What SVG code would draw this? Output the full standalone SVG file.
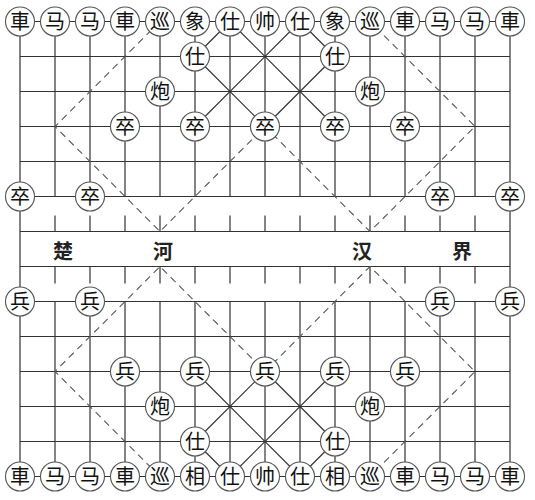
<svg xmlns="http://www.w3.org/2000/svg" width="535" height="500" viewBox="0 0 535 500">
<style>
.g{stroke:#333;stroke-width:1.2;fill:none}
.d{stroke:#555;stroke-width:1.1;fill:none;stroke-dasharray:7 5}
.p circle{fill:#fff;stroke:#555;stroke-width:1.1}
.p text{font-family:"Noto Sans CJK SC","Noto Sans CJK JP",sans-serif;font-size:20px;fill:#111;text-anchor:middle}
.r{font-family:"Noto Sans CJK SC","Noto Sans CJK JP",sans-serif;font-size:20px;font-weight:bold;fill:#222;text-anchor:middle}
</style>
<rect width="535" height="500" fill="#fff"/>
<g id="connectors">
<path class="g" d="M20 21.5H510M20 56.5H510M20 91.5H510M20 126.5H510M20 161.5H510M20 196.5H510M20 231.5H510M20 266.5H510M20 301.5H510M20 336.5H510M20 371.5H510M20 406.5H510M20 441.5H510M20 476.5H510"/>
<path class="g" d="M20 21.5V476.5M510 21.5V476.5
M55 21.5V196.5M90 21.5V196.5M125 21.5V196.5M160 21.5V196.5M195 21.5V196.5M230 21.5V196.5M265 21.5V196.5M300 21.5V196.5M335 21.5V196.5M370 21.5V196.5M405 21.5V196.5M440 21.5V196.5M475 21.5V196.5
M55 301.5V476.5M90 301.5V476.5M125 301.5V476.5M160 301.5V476.5M195 301.5V476.5M230 301.5V476.5M265 301.5V476.5M300 301.5V476.5M335 301.5V476.5M370 301.5V476.5M405 301.5V476.5M440 301.5V476.5M475 301.5V476.5"/>
<path class="g" d="M55 215.5V231.5M90 215.5V231.5M125 215.5V231.5M160 215.5V231.5M195 215.5V231.5M230 215.5V231.5M265 215.5V231.5M300 215.5V231.5M335 215.5V231.5M370 215.5V231.5M405 215.5V231.5M440 215.5V231.5M475 215.5V231.5
M55 266.5V283.5M90 266.5V283.5M125 266.5V283.5M160 266.5V283.5M195 266.5V283.5M230 266.5V283.5M265 266.5V283.5M300 266.5V283.5M335 266.5V283.5M370 266.5V283.5M405 266.5V283.5M440 266.5V283.5M475 266.5V283.5"/>
<path class="g" stroke-width="1" d="M195 56.5L265 126.5M230 21.5L195 56.5M230 21.5L335 126.5M300 21.5L195 126.5M300 21.5L335 56.5M335 56.5L265 126.5
M195 441.5L265 371.5M230 476.5L195 441.5M230 476.5L335 371.5M300 476.5L195 371.5M300 476.5L335 441.5M335 441.5L265 371.5"/>
<polyline class="d" points="160,21.5 55,126.5 160,231.5 265,126.5 370,231.5 475,126.5 370,21.5"/>
<polyline class="d" points="160,476.5 55,371.5 160,266.5 265,371.5 370,266.5 475,371.5 370,476.5"/>
</g>
<g id="river">
<text class="r" x="63" y="259">楚</text>
<text class="r" x="163" y="259">河</text>
<text class="r" x="362" y="259">汉</text>
<text class="r" x="462" y="259">界</text>
</g>
<g id="t0" class="p"><circle cx="20" cy="21.5" r="14.5"/><text x="20" y="28.5">車</text></g>
<g id="t1" class="p"><circle cx="55" cy="21.5" r="14.5"/><text x="55" y="28.5">马</text></g>
<g id="t2" class="p"><circle cx="90" cy="21.5" r="14.5"/><text x="90" y="28.5">马</text></g>
<g id="t3" class="p"><circle cx="125" cy="21.5" r="14.5"/><text x="125" y="28.5">車</text></g>
<g id="t4" class="p"><circle cx="160" cy="21.5" r="14.5"/><text x="160" y="28.5">巡</text></g>
<g id="t5" class="p"><circle cx="195" cy="21.5" r="14.5"/><text x="195" y="28.5">象</text></g>
<g id="t6" class="p"><circle cx="230" cy="21.5" r="14.5"/><text x="230" y="28.5">仕</text></g>
<g id="t7" class="p"><circle cx="265" cy="21.5" r="14.5"/><text x="265" y="28.5">帅</text></g>
<g id="t8" class="p"><circle cx="300" cy="21.5" r="14.5"/><text x="300" y="28.5">仕</text></g>
<g id="t9" class="p"><circle cx="335" cy="21.5" r="14.5"/><text x="335" y="28.5">象</text></g>
<g id="t10" class="p"><circle cx="370" cy="21.5" r="14.5"/><text x="370" y="28.5">巡</text></g>
<g id="t11" class="p"><circle cx="405" cy="21.5" r="14.5"/><text x="405" y="28.5">車</text></g>
<g id="t12" class="p"><circle cx="440" cy="21.5" r="14.5"/><text x="440" y="28.5">马</text></g>
<g id="t13" class="p"><circle cx="475" cy="21.5" r="14.5"/><text x="475" y="28.5">马</text></g>
<g id="t14" class="p"><circle cx="510" cy="21.5" r="14.5"/><text x="510" y="28.5">車</text></g>
<g id="t15" class="p"><circle cx="195" cy="56.5" r="14.5"/><text x="195" y="63.5">仕</text></g>
<g id="t16" class="p"><circle cx="335" cy="56.5" r="14.5"/><text x="335" y="63.5">仕</text></g>
<g id="t17" class="p"><circle cx="160" cy="91.5" r="14.5"/><text x="160" y="98.5">炮</text></g>
<g id="t18" class="p"><circle cx="370" cy="91.5" r="14.5"/><text x="370" y="98.5">炮</text></g>
<g id="t19" class="p"><circle cx="125" cy="126.5" r="14.5"/><text x="125" y="133.5">卒</text></g>
<g id="t20" class="p"><circle cx="195" cy="126.5" r="14.5"/><text x="195" y="133.5">卒</text></g>
<g id="t21" class="p"><circle cx="265" cy="126.5" r="14.5"/><text x="265" y="133.5">卒</text></g>
<g id="t22" class="p"><circle cx="335" cy="126.5" r="14.5"/><text x="335" y="133.5">卒</text></g>
<g id="t23" class="p"><circle cx="405" cy="126.5" r="14.5"/><text x="405" y="133.5">卒</text></g>
<g id="t24" class="p"><circle cx="20" cy="196.5" r="14.5"/><text x="20" y="203.5">卒</text></g>
<g id="t25" class="p"><circle cx="90" cy="196.5" r="14.5"/><text x="90" y="203.5">卒</text></g>
<g id="t26" class="p"><circle cx="440" cy="196.5" r="14.5"/><text x="440" y="203.5">卒</text></g>
<g id="t27" class="p"><circle cx="510" cy="196.5" r="14.5"/><text x="510" y="203.5">卒</text></g>
<g id="b0" class="p"><circle cx="20" cy="301.5" r="14.5"/><text x="20" y="308.5">兵</text></g>
<g id="b1" class="p"><circle cx="90" cy="301.5" r="14.5"/><text x="90" y="308.5">兵</text></g>
<g id="b2" class="p"><circle cx="440" cy="301.5" r="14.5"/><text x="440" y="308.5">兵</text></g>
<g id="b3" class="p"><circle cx="510" cy="301.5" r="14.5"/><text x="510" y="308.5">兵</text></g>
<g id="b4" class="p"><circle cx="125" cy="371.5" r="14.5"/><text x="125" y="378.5">兵</text></g>
<g id="b5" class="p"><circle cx="195" cy="371.5" r="14.5"/><text x="195" y="378.5">兵</text></g>
<g id="b6" class="p"><circle cx="265" cy="371.5" r="14.5"/><text x="265" y="378.5">兵</text></g>
<g id="b7" class="p"><circle cx="335" cy="371.5" r="14.5"/><text x="335" y="378.5">兵</text></g>
<g id="b8" class="p"><circle cx="405" cy="371.5" r="14.5"/><text x="405" y="378.5">兵</text></g>
<g id="b9" class="p"><circle cx="160" cy="406.5" r="14.5"/><text x="160" y="413.5">炮</text></g>
<g id="b10" class="p"><circle cx="370" cy="406.5" r="14.5"/><text x="370" y="413.5">炮</text></g>
<g id="b11" class="p"><circle cx="195" cy="441.5" r="14.5"/><text x="195" y="448.5">仕</text></g>
<g id="b12" class="p"><circle cx="335" cy="441.5" r="14.5"/><text x="335" y="448.5">仕</text></g>
<g id="b13" class="p"><circle cx="20" cy="476.5" r="14.5"/><text x="20" y="483.5">車</text></g>
<g id="b14" class="p"><circle cx="55" cy="476.5" r="14.5"/><text x="55" y="483.5">马</text></g>
<g id="b15" class="p"><circle cx="90" cy="476.5" r="14.5"/><text x="90" y="483.5">马</text></g>
<g id="b16" class="p"><circle cx="125" cy="476.5" r="14.5"/><text x="125" y="483.5">車</text></g>
<g id="b17" class="p"><circle cx="160" cy="476.5" r="14.5"/><text x="160" y="483.5">巡</text></g>
<g id="b18" class="p"><circle cx="195" cy="476.5" r="14.5"/><text x="195" y="483.5">相</text></g>
<g id="b19" class="p"><circle cx="230" cy="476.5" r="14.5"/><text x="230" y="483.5">仕</text></g>
<g id="b20" class="p"><circle cx="265" cy="476.5" r="14.5"/><text x="265" y="483.5">帅</text></g>
<g id="b21" class="p"><circle cx="300" cy="476.5" r="14.5"/><text x="300" y="483.5">仕</text></g>
<g id="b22" class="p"><circle cx="335" cy="476.5" r="14.5"/><text x="335" y="483.5">相</text></g>
<g id="b23" class="p"><circle cx="370" cy="476.5" r="14.5"/><text x="370" y="483.5">巡</text></g>
<g id="b24" class="p"><circle cx="405" cy="476.5" r="14.5"/><text x="405" y="483.5">車</text></g>
<g id="b25" class="p"><circle cx="440" cy="476.5" r="14.5"/><text x="440" y="483.5">马</text></g>
<g id="b26" class="p"><circle cx="475" cy="476.5" r="14.5"/><text x="475" y="483.5">马</text></g>
<g id="b27" class="p"><circle cx="510" cy="476.5" r="14.5"/><text x="510" y="483.5">車</text></g>
</svg>
